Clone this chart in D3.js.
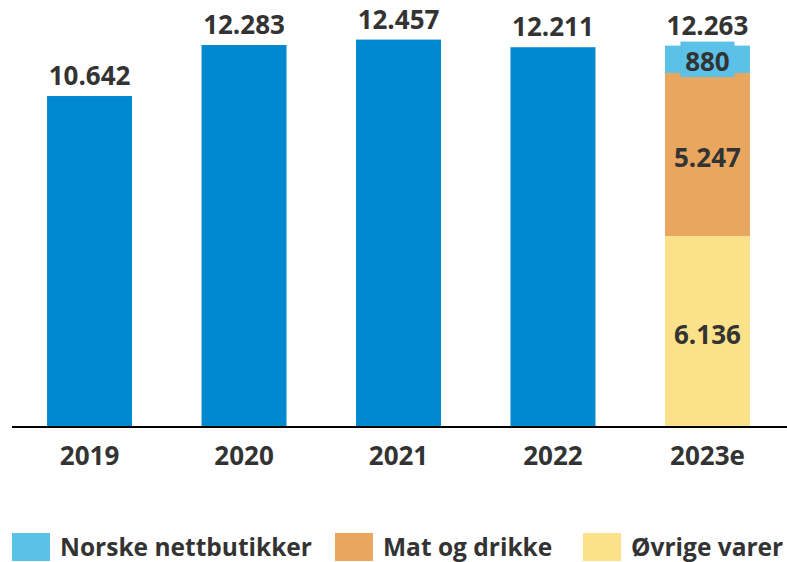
<!DOCTYPE html>
<html>
<head>
  <meta charset="utf-8">
  <style>
  *{ margin: 0; padding: 0; }
  body{ background: #fff; }
  text{ font-family: 'Open Sans', 'DejaVu Sans', sans-serif; font-weight: 700; fill: #333; }
  .axis path, .axis line{ display: none; }
  </style>
</head>
<body>
  <div id="chart"></div>
  <script src="https://cdnjs.cloudflare.com/ajax/libs/d3/7.8.5/d3.min.js"></script>
  <script>

  // totals in billion NOK (dot as thousands separator in Norwegian)
  let years = ['2019', '2020', '2021', '2022', '2023e'];
  let totals = [10.642, 12.283, 12.457, 12.211, 12.263];

  // breakdown only for 2023e
  let series = ['Øvrige varer', 'Mat og drikke', 'Norske nettbutikker'];
  let breakdown2023 = [6.136, 5.247, 0.880];
  let breakdownLabels = ['6.136', '5.247', '880'];
  let totalLabels = ['10.642', '12.283', '12.457', '12.211', '12.263'];

  let legendOrder = ['Norske nettbutikker', 'Mat og drikke', 'Øvrige varer'];

  let colors = {
    'Norske nettbutikker': '#5bc1e7',
    'Mat og drikke': '#e8a65f',
    'Øvrige varer': '#fbe28a'
  };
  let barColor = '#0089cf';

  let width = 787, height = 562;
  let baseline = 427;

  let svg = d3.select('#chart').append('svg')
    .attr('width', width)
    .attr('height', height);

  let x = d3.scaleBand()
    .domain(years)
    .range([12.3, 784.7])
    .paddingInner(0.45)
    .paddingOuter(0.225);

  let y = d3.scaleLinear()
    .domain([0, 13])
    .range([baseline, baseline - 13 * 31.1]);

  // plain bars
  let plain = years.slice(0, 4);
  svg.selectAll('rect.bar')
    .data(plain)
    .enter()
    .append('rect')
    .attr('class', 'bar')
    .attr('x', d => x(d))
    .attr('width', x.bandwidth())
    .attr('y', (d, i) => y(totals[i]))
    .attr('height', (d, i) => y(0) - y(totals[i]))
    .attr('fill', barColor);

  // stacked 2023e
  let stackData = [];
  let acc = 0;
  breakdown2023.forEach(function(v, i){
    stackData.push({name: series[i], y0: acc, y1: acc + v, label: breakdownLabels[i]});
    acc += v;
  });

  let last = years[4];
  svg.selectAll('rect.seg')
    .data(stackData)
    .enter()
    .append('rect')
    .attr('class', 'seg')
    .attr('x', x(last))
    .attr('width', x.bandwidth())
    .attr('y', d => y(d.y1))
    .attr('height', d => y(d.y0) - y(d.y1))
    .attr('fill', d => colors[d.name]);

  // small segment gets a label box slightly taller than itself
  let small = stackData[2];
  let cx = x(last) + x.bandwidth() / 2;
  svg.append('rect')
    .attr('x', cx - 27)
    .attr('width', 54)
    .attr('y', y(small.y1) - 4)
    .attr('height', y(small.y0) - y(small.y1) + 8)
    .attr('fill', colors[small.name]);

  svg.selectAll('text.seglabel')
    .data(stackData)
    .enter()
    .append('text')
    .attr('class', 'seglabel')
    .attr('x', cx)
    .attr('y', d => (y(d.y0) + y(d.y1)) / 2 + 2)
    .attr('text-anchor', 'middle')
    .attr('dominant-baseline', 'central')
    .attr('font-size', 26)
    .text(d => d.label);

  // total labels
  svg.selectAll('text.total')
    .data(years)
    .enter()
    .append('text')
    .attr('class', 'total')
    .attr('x', d => x(d) + x.bandwidth() / 2)
    .attr('y', (d, i) => y(totals[i]) - 11)
    .attr('text-anchor', 'middle')
    .attr('font-size', 26)
    .text((d, i) => totalLabels[i]);

  // x axis
  let xAxis = d3.axisBottom(x).tickSize(0).tickPadding(0);
  let gx = svg.append('g')
    .attr('class', 'axis')
    .attr('transform', 'translate(0,' + baseline + ')')
    .call(xAxis);
  gx.selectAll('text')
    .attr('font-size', 26)
    .attr('y', 38)
    .attr('dy', null);
  gx.attr('font-family', null);

  svg.append('line')
    .attr('x1', 12).attr('x2', width)
    .attr('y1', baseline).attr('y2', baseline)
    .attr('stroke', '#000')
    .attr('stroke-width', 2);

  // legend
  let legendX = [12, 335, 583];
  let leg = svg.selectAll('g.leg')
    .data(legendOrder)
    .enter()
    .append('g')
    .attr('class', 'leg')
    .attr('transform', (d, i) => 'translate(' + legendX[i] + ',533)');
  leg.append('rect')
    .attr('width', 38)
    .attr('height', 28)
    .attr('fill', d => colors[d]);
  leg.append('text')
    .attr('x', 48)
    .attr('y', 23)
    .attr('font-size', 24.5)
    .text(d => d);

  </script>
</body>
</html>
